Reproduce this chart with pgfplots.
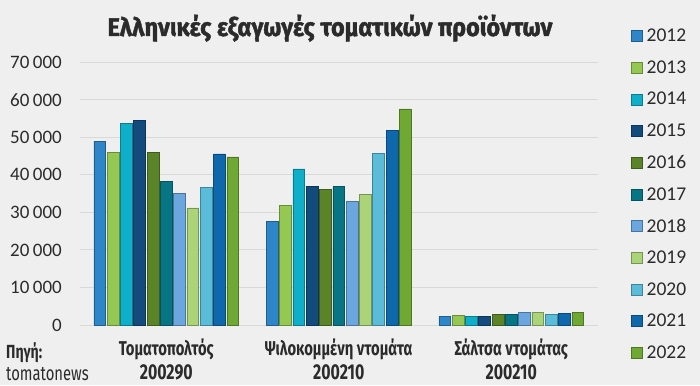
\documentclass[border=0pt]{standalone}
\usepackage{pgfplots}
\pgfplotsset{compat=1.18}
\usepackage{fontspec}
\setmainfont{Carlito}
\newfontfamily\cond[FakeStretch=0.74]{Fira Sans}
\newfontfamily\titlef[FakeStretch=0.92, FakeBold=1.6]{Fira Sans}
\definecolor{bg}{HTML}{EFEFEF}
\definecolor{gridc}{HTML}{D9D9D9}
\definecolor{txt}{HTML}{2B2B2B}
\definecolor{c12}{HTML}{2E86C8}
\definecolor{c13}{HTML}{95C852}
\definecolor{c14}{HTML}{10AFC9}
\definecolor{c15}{HTML}{134B7C}
\definecolor{c16}{HTML}{5B8428}
\definecolor{c17}{HTML}{087585}
\definecolor{c18}{HTML}{6BA6DE}
\definecolor{c19}{HTML}{ABD377}
\definecolor{c20}{HTML}{5ABCD8}
\definecolor{c21}{HTML}{0E68AB}
\definecolor{c22}{HTML}{70A834}
\pgfplotsset{
  yr/.style={fill=#1, draw=#1!70!black, line width=0.6pt,
    legend image code/.code={\draw[##1] (0pt,-5.5pt) rectangle (11pt,5.5pt);}},
}
\begin{document}
\begin{tikzpicture}[x=1pt,y=1pt]
\useasboundingbox (0,0) rectangle (700,385);
\fill[bg] (0,0) rectangle (700,385);
\node[anchor=base, font=\fontsize{25.5}{30}\selectfont\titlef\bfseries, text=txt, inner sep=0pt] at (330,349) {Ελληνικές εξαγωγές τοματικών προϊόντων};
\node[anchor=base west, font=\fontsize{19}{24}\selectfont\cond\bfseries, text=txt, inner sep=0pt] at (6,27) {Πηγή:};
\node[anchor=base west, font=\fontsize{20}{24}\selectfont\cond, text=txt, inner sep=0pt] at (6,5) {tomatonews};
\begin{axis}[
  at={(80pt,60pt)}, anchor=south west,
  scale only axis, width=517.5pt, height=262.7pt,
  xmin=-0.5, xmax=2.5, ymin=0, ymax=70000,
  ytick={0,10000,...,70000},
  scaled y ticks=false,
  ymajorgrids, grid style={color=gridc, line width=0.9pt},
  axis line style={draw=none},
  major tick length=0pt,
  xtick={0,1,2},
  xticklabels={{Τοματοπολτός\\[0pt]\fontsize{21.5}{22}\selectfont 200290},{Ψιλοκομμένη ντομάτα\\[0pt]\fontsize{21.5}{22}\selectfont 200210},{Σάλτσα ντομάτας\\[0pt]\fontsize{21.5}{22}\selectfont 200210}},
  xticklabel style={align=center, font=\fontsize{20}{24}\selectfont\cond\bfseries, text=txt, inner sep=0pt, yshift=-14pt},
  yticklabel style={font=\fontsize{19}{20}\selectfont, text=txt, inner sep=0pt, xshift=-18pt},
  /pgf/number format/assume math mode=true,
  /pgf/number format/1000 sep={\kern3.5pt},
  ybar=1.5pt, bar width=11.8pt,
  legend style={at={(1.0642,1.1605)}, anchor=north west, draw=none, fill=none,
    inner sep=0pt, outer sep=0pt, row sep=0pt, column sep=4.3pt,
    font=\fontsize{19.5}{20}\selectfont, text=txt,
    nodes={inner sep=0pt, minimum height=31.7pt}},
  legend cell align=left,
]
\addplot[yr=c12] coordinates {(0,48900) (1,27500) (2,2200)};
\addplot[yr=c13] coordinates {(0,46000) (1,31800) (2,2500)};
\addplot[yr=c14] coordinates {(0,53800) (1,41600) (2,2200)};
\addplot[yr=c15] coordinates {(0,54500) (1,36900) (2,2200)};
\addplot[yr=c16] coordinates {(0,46000) (1,36100) (2,2750)};
\addplot[yr=c17] coordinates {(0,38200) (1,36900) (2,2750)};
\addplot[yr=c18] coordinates {(0,35000) (1,32900) (2,3400)};
\addplot[yr=c19] coordinates {(0,31200) (1,34800) (2,3400)};
\addplot[yr=c20] coordinates {(0,36600) (1,45700) (2,2850)};
\addplot[yr=c21] coordinates {(0,45600) (1,51900) (2,3100)};
\addplot[yr=c22] coordinates {(0,44800) (1,57600) (2,3300)};
\legend{2012,2013,2014,2015,2016,2017,2018,2019,2020,2021,2022}
\end{axis}
\end{tikzpicture}
\end{document}
